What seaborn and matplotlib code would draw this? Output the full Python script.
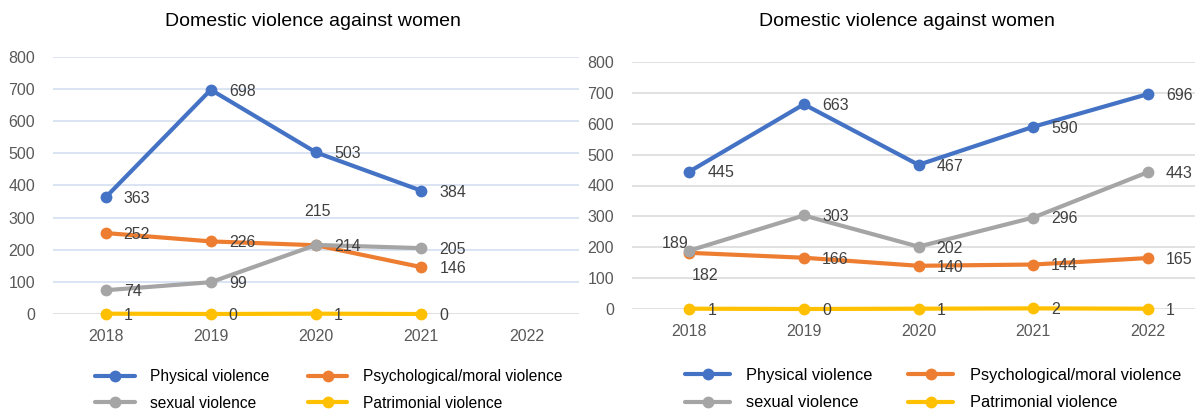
import matplotlib
matplotlib.use("Agg")
import matplotlib.pyplot as plt
from matplotlib.lines import Line2D
import seaborn as sns
import pandas as pd
import numpy as np

# ---------------- data ----------------
years = ["2018", "2019", "2020", "2021", "2022"]
series_names = ["Physical violence", "Psychological/moral violence",
                "sexual violence", "Patrimonial violence"]

left_physical = [363, 698, 503, 384, None]
left_psych = [252, 226, 214, 146, None]
left_sexual = [74, 99, 215, 205, None]
left_patrimonial = [1, 0, 1, 0, None]

right_physical = [445, 663, 467, 590, 696]
right_psych = [182, 166, 140, 144, 165]
right_sexual = [189, 303, 202, 296, 443]
right_patrimonial = [1, 0, 1, 2, 1]

title = "Domestic violence against women"
yticks = [0, 100, 200, 300, 400, 500, 600, 700, 800]

colors = {"Physical violence": "#4472C4",
          "Psychological/moral violence": "#ED7D31",
          "sexual violence": "#A5A5A5",
          "Patrimonial violence": "#FFC000"}

sns.set_theme(style="white")
plt.rcParams["font.family"] = ["Liberation Sans", "DejaVu Sans"]

W, H = 1195, 413
fig = plt.figure(figsize=(W / 100, H / 100), dpi=100)


def make_df(values_list):
    rows = []
    for name, vals in zip(series_names, values_list):
        for i, v in enumerate(vals):
            if v is not None:
                rows.append({"pos": i, "year": years[i], "series": name, "value": v})
    return pd.DataFrame(rows)


def draw_panel(ax, df, grid_color, zero_color, special):
    sns.lineplot(data=df, x="pos", y="value", hue="series", hue_order=series_names,
                 palette=colors, marker="o", markersize=8.5, markeredgewidth=0,
                 linewidth=3, legend=False, ax=ax, clip_on=False, sort=True)
    ax.set_xlim(-0.5, 4.5)
    ax.set_ylim(0, 800)
    ax.set_xticks(range(len(years)))
    ax.set_xticklabels(years)
    ax.set_yticks(yticks)
    ax.set_xlabel("")
    ax.set_ylabel("")
    for s in ax.spines.values():
        s.set_visible(False)
    ax.grid(axis="y", color=grid_color, linewidth=1.1)
    ax.grid(axis="x", visible=False)
    ax.get_ygridlines()[0].set_color(zero_color)
    ax.set_axisbelow(True)
    ax.tick_params(axis="both", length=0, labelsize=11.5, colors="#595959")
    ax.tick_params(axis="y", pad=13)
    ax.tick_params(axis="x", pad=11)
    for _, r in df.iterrows():
        key = (r["series"], r["pos"])
        if key in special:
            dx, dy, ha = special[key]
        else:
            dx, dy, ha = 13, -1, "left"
        ax.annotate(f"{int(r['value'])}", (r["pos"], r["value"]),
                    xytext=(dx, dy), textcoords="offset points",
                    ha=ha, va="center", fontsize=11.5, color="#404040",
                    annotation_clip=False)


# left panel
axL = fig.add_axes([53 / W, (H - 314) / H, (579 - 53) / W, (314 - 57) / H])
dfL = make_df([left_physical, left_psych, left_sexual, left_patrimonial])
draw_panel(axL, dfL, "#CFDCEF", "#D9D9D9",
           {("sexual violence", 2): (1, 24, "center")})

# right panel
axR = fig.add_axes([632 / W, (H - 309) / H, (1205 - 632) / W, (309 - 62) / H])
dfR = make_df([right_physical, right_psych, right_sexual, right_patrimonial])
draw_panel(axR, dfR, "#D9D9D9", "#D9D9D9",
           {("sexual violence", 0): (-10, 5, "center"),
            ("Psychological/moral violence", 0): (11, -16, "center")})

# titles
fig.text(313 / W, 1 - 22 / H, title, ha="center", va="center", fontsize=14, color="#000000")
fig.text(907 / W, 1 - 21 / H, title, ha="center", va="center", fontsize=14, color="#000000")

# legends
handles = [Line2D([0], [0], color=colors[n], lw=3, marker="o", markersize=8.5,
                  markeredgewidth=0) for n in series_names]
order = [0, 2, 1, 3]  # rows: Physical/Psych, sexual/Patrimonial
h_ord = [handles[i] for i in order]
l_ord = [series_names[i] for i in order]
legend_specs = [
    (95, 11.2, 2.55, 1.0, 2.45, 369),
    (685, 11.8, 2.75, 1.0, 2.15, 368),
]
for x0, fs, hl, htp, cs, ytop in legend_specs:
    fig.legend(h_ord, l_ord, ncol=2, loc="upper left",
               bbox_to_anchor=(x0 / W, (H - ytop) / H), frameon=False,
               fontsize=fs, handlelength=hl, handletextpad=htp,
               columnspacing=cs, labelspacing=0.75, borderpad=0,
               borderaxespad=0, labelcolor="#000000")

fig.savefig("out.png", dpi=100, facecolor="white")
